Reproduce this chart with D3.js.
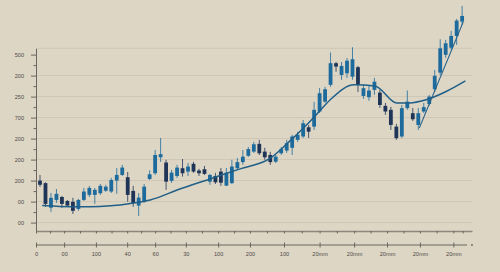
<!DOCTYPE html>
<html>
<head>
<meta charset="utf-8">
<script src="https://d3js.org/d3.v7.min.js"></script>
<style>
body { margin:0; background:#ded6c5; }
svg { display:block; font-family:"Liberation Sans", Arial, sans-serif; }
</style>
</head>
<body>
<svg id="chart"></svg>
<script>
// daily candles (index = day)
var opens  = [200,188,71,108,122,103,99,65,108,132, 132,140,152,148,200,227,216,151,81,100,
              208,235,311,286,199,222,259,243,280,248, 254,195,222,243,176,188,259,288,318,338,
              375,338,322,290,330,343,356,394,410,454, 457,529,576,656,759,703,711,695,740,603,
              597,632,619,556,537,457,410,545,521,465, 529,565,635,714,799,833,889,957];
var closes = [180,89,118,137,89,81,56,108,148,165, 156,175,171,203,227,262,132,92,119,171,
              230,322,326,195,238,262,235,267,243,235, 232,227,192,190,238,267,288,314,350,373,
              330,311,288,314,350,378,410,418,473,433, 537,616,635,759,743,746,771,778,656,640,
              629,671,560,529,465,402,545,576,492,521, 550,600,699,830,854,889,962,984];
var highs  = [227,192,141,160,127,108,118,113,165,175, 165,184,180,213,260,275,241,175,141,184,
              249,346,403,299,251,275,303,284,289,256, 270,232,237,260,260,299,308,346,360,384,
              394,356,337,322,360,394,418,432,489,465, 575,641,646,810,765,765,784,835,746,656,
              651,689,632,570,551,470,560,629,546,546, 570,608,727,873,870,913,970,1032];
var lows   = [170,75,51,94,70,75,41,56,103,122, 89,132,146,141,137,222,99,75,32,94,
              203,227,289,156,189,213,219,222,237,222, 227,180,184,175,175,184,251,275,313,332,
              322,299,275,284,322,332,322,384,403,403, 441,522,570,646,718,680,689,680,622,589,
              580,608,546,513,441,394,403,537,484,441, 522,556,622,703,784,822,846,941];

// moving average line
var maDays   = [0.4,3.6,7.3,10.9,14.6,17.3,20.1,25.5,31,36.5,41.8,45.6,50.2,52.9,57.3,61.1,65.1,67.5,70.3,73.9,77.6];
var maValues = [81,77,75,77,84,94,108,160,208,256,303,389,508,584,656,651,570,570,584,622,675];

// short trend line at the end
var trendDays   = [69.2, 77.2];
var trendValues = [451, 956];

// axis ticks
var yTickValues = [0,100,200,300,400,500,600,700,800];
var yTickLabels = ["00","00","200","200","200","700","250","200","500"];
var xTickDays   = [-0.73,4.4,10.2,15.9,21,26.6,32.5,38.3,44.5,51,57.3,63.3,69.3,75.4];
var xTickLabels = ["0","00","100","40","60","30","100","200","100","20mm","20mm","20mm","20mm","20mm"];

var W = 500, H = 272;
var svg = d3.select("#chart").attr("width", W).attr("height", H);

svg.append("rect").attr("width", W).attr("height", H).attr("fill", "#ded6c5");

var x = d3.scaleLinear().domain([-0.73, 78.8]).range([36, 472]);
var y = d3.scaleLinear().domain([-40, 830]).range([231, 48.3]);

// grid
var gridVals = [0,100,200,300,400,500,600,700,830];
svg.selectAll(".grid")
  .data(gridVals).enter()
  .append("line").classed("grid",1)
  .attr("x1", x(-0.73)).attr("x2", x(78.8))
  .attr("y1", function(d){return y(d);}).attr("y2", function(d){return y(d);})
  .attr("stroke", "#cfc7b4")
  .attr("stroke-width", 1);

// y axis
var yAxis = svg.append("g").attr("transform", "translate(" + x(-0.73) + ",0)")
  .call(d3.axisLeft(y).tickValues(yTickValues)
    .tickFormat(function(d,i){return yTickLabels[i];})
    .tickSize(5).tickSizeOuter(0).tickPadding(7));
yAxis.select(".domain").attr("stroke", "#6b665e");
yAxis.selectAll(".tick line").attr("stroke", "#6b665e");
yAxis.selectAll("text").attr("fill", "#4d4a45").attr("font-size", "5.6px");

var yMinor = yTickValues.slice(0, -1).map(function(d){return d + 50;});
svg.append("g").attr("transform", "translate(" + x(-0.73) + ",0)")
  .call(d3.axisLeft(y).tickValues(yMinor).tickFormat("").tickSize(2.5).tickSizeOuter(0))
  .call(function(g){ g.select(".domain").remove(); g.selectAll("line").attr("stroke", "#6b665e"); });

// bottom axis (plot edge)
var xMinor = [];
for (var k=0; k<xTickDays.length-1; ++k) xMinor.push((xTickDays[k] + xTickDays[k+1]) / 2);
xMinor.push((xTickDays[xTickDays.length-1] + 78.8) / 2);
var edge = svg.append("g").attr("transform", "translate(0," + y(-40) + ")")
  .call(d3.axisBottom(x).tickValues(xTickDays.concat(xMinor)).tickFormat("").tickSize(2.5).tickSizeOuter(0));
edge.select(".domain").attr("stroke", "#8d877c").attr("stroke-width", 1.6);
edge.selectAll(".tick line").attr("stroke", "#6b665e");

// lower labelled axis
var lowY = 245;
var lower = svg.append("g").attr("transform", "translate(0," + lowY + ")")
  .call(d3.axisBottom(x).tickValues(xTickDays)
    .tickFormat(function(d,i){return xTickLabels[i];})
    .tickSize(2.5).tickSizeOuter(0));
lower.select(".domain").remove();
lower.selectAll(".tick line").attr("y1", -2.5).attr("y2", 2.5).attr("stroke", "#6b665e");
lower.selectAll("text").attr("y", 7).attr("fill", "#4d4a45").attr("font-size", "5.6px");
lower.append("line")
  .attr("x1", x(-0.73)).attr("x2", x(77.9))
  .attr("stroke", "#6b665e").attr("stroke-width", 1);
lower.append("circle").attr("cx", x(78.8)).attr("cy", 0).attr("r", 0.9).attr("fill", "#6b665e");

// candles
var days = d3.range(opens.length);
var up = "#1d6b9c", down = "#1f3558";
function col(i){ return closes[i] >= opens[i] ? up : down; }

svg.selectAll(".wick")
  .data(days).enter()
  .append("line").classed("wick",1)
  .attr("x1", function(d){return x(d);}).attr("x2", function(d){return x(d);})
  .attr("y1", function(d){return y(highs[d]);}).attr("y2", function(d){return y(lows[d]);})
  .attr("stroke", function(d){return col(d);})
  .attr("stroke-opacity", 0.8)
  .attr("stroke-width", 1);

var bw = 3.8;
svg.selectAll(".body")
  .data(days).enter()
  .append("rect").classed("body",1)
  .attr("x", function(d){return x(d) - bw/2;})
  .attr("y", function(d){return y(Math.max(opens[d], closes[d]));})
  .attr("width", bw)
  .attr("height", function(d){return Math.max(1.2, Math.abs(y(opens[d]) - y(closes[d])));})
  .attr("fill", function(d){return col(d);});

// moving average
var line = d3.line()
  .x(function(d){return x(d[0]);})
  .y(function(d){return y(d[1]);})
  .curve(d3.curveMonotoneX);

svg.append("path")
  .datum(d3.zip(maDays, maValues))
  .attr("d", line)
  .attr("fill", "none")
  .attr("stroke", "#1f5f88")
  .attr("stroke-width", 1.5);

svg.append("path")
  .datum(d3.zip(trendDays, trendValues))
  .attr("d", line)
  .attr("fill", "none")
  .attr("stroke", "#1f5f88")
  .attr("stroke-width", 1.1);
</script>
</body>
</html>
